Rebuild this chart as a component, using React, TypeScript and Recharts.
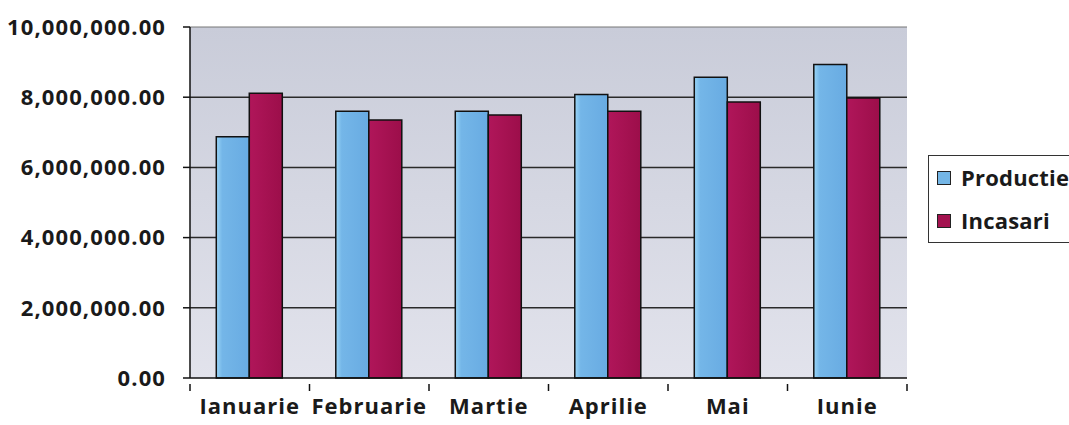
import React from 'react';
import { BarChart, Bar, XAxis, YAxis, CartesianGrid, Legend, ReferenceLine } from 'recharts';

const months = ['Ianuarie', 'Februarie', 'Martie', 'Aprilie', 'Mai', 'Iunie'];
const productie = [6870000, 7600000, 7600000, 8080000, 8570000, 8930000];
const incasari = [8110000, 7350000, 7490000, 7600000, 7860000, 7980000];
const yTicks = [0, 2000000, 4000000, 6000000, 8000000, 10000000];
const gridLines = [2000000, 4000000, 6000000, 8000000];

const data = months.map((m, i) => ({ month: m, Productie: productie[i], Incasari: incasari[i] }));

const FONT = '"Open Sans", sans-serif';
const fmt = (v: number) =>
  v.toLocaleString('en-US', { minimumFractionDigits: 2, maximumFractionDigits: 2 });

// category label plus Excel-style tick marks on the category boundaries
const MonthTick = (props: any) => {
  const { x, y, payload, index, visibleTicksCount } = props;
  const half = payload.offset || 0;
  const axisY = y - 12;
  return (
    <g>
      <line x1={x - half} x2={x - half} y1={axisY} y2={axisY + 7} stroke="#111" strokeWidth={1.5} />
      {index === visibleTicksCount - 1 && (
        <line x1={x + half} x2={x + half} y1={axisY} y2={axisY + 7} stroke="#111" strokeWidth={1.5} />
      )}
      <text
        x={x}
        y={y}
        dy={18}
        textAnchor="middle"
        fill="#1a1a1a"
        style={{ fontFamily: FONT, fontWeight: 700, fontSize: 22, letterSpacing: 1 }}
      >
        {payload.value}
      </text>
    </g>
  );
};

const LegendBox = () => (
  <div
    style={{
      border: '1.5px solid #333',
      padding: '0 60px 0 8px',
      fontFamily: FONT,
      fontWeight: 700,
      fontSize: 22,
      letterSpacing: 0.2,
      color: '#1a1a1a',
      background: '#fff',
      lineHeight: '43px',
      whiteSpace: 'nowrap',
    }}
  >
    {[
      { name: 'Productie', color: '#74b6e6' },
      { name: 'Incasari', color: '#a3124f' },
    ].map((it) => (
      <div key={it.name} style={{ display: 'flex', alignItems: 'center' }}>
        <span
          style={{
            display: 'inline-block',
            width: 12,
            height: 12,
            background: it.color,
            border: '1.5px solid #222',
            marginRight: 10,
          }}
        />
        {it.name}
      </div>
    ))}
  </div>
);

export default function App() {
  return (
    <div style={{ position: 'absolute', left: 0, top: 0, background: '#fff' }}>
      <BarChart
        width={1110}
        height={425}
        data={data}
        margin={{ top: 27, right: 203, bottom: 0, left: 0 }}
        barCategoryGap="22%"
        barGap={0}
      >
        <defs>
          <linearGradient id="plotBg" x1="0" y1="0" x2="0" y2="1">
            <stop offset="0%" stopColor="#c9ccd9" />
            <stop offset="100%" stopColor="#e2e3ec" />
          </linearGradient>
          <linearGradient id="blueBar" x1="0" y1="0" x2="1" y2="0">
            <stop offset="0%" stopColor="#9ad6f7" />
            <stop offset="18%" stopColor="#74b6e8" />
            <stop offset="100%" stopColor="#68abe2" />
          </linearGradient>
          <linearGradient id="redBar" x1="0" y1="0" x2="1" y2="0">
            <stop offset="0%" stopColor="#b0165a" />
            <stop offset="100%" stopColor="#9c0e4a" />
          </linearGradient>
        </defs>
        <CartesianGrid
          vertical={false}
          horizontalValues={gridLines}
          stroke="#2a2a2a"
          strokeWidth={1.5}
          fill="url(#plotBg)"
          yAxisId="y"
          xAxisId="b"
        />
        <ReferenceLine yAxisId="y" xAxisId="b" y={10000000} stroke="#777" strokeWidth={1} />
        <XAxis
          xAxisId="b"
          dataKey="month"
          stroke="#111"
          strokeWidth={1.5}
          tickLine={false}
          height={47}
          interval={0}
          tick={<MonthTick />}
          tickMargin={12}
        />
        <YAxis
          yAxisId="y"
          domain={[0, 10000000]}
          ticks={yTicks}
          tickFormatter={fmt}
          width={190}
          stroke="#111"
          strokeWidth={1.5}
          tickSize={7}
          tickMargin={17}
          tick={{ fill: '#1a1a1a', fontFamily: FONT, fontWeight: 700, fontSize: 22, letterSpacing: 1.1 }}
        />
        <YAxis
          yAxisId="r"
          orientation="right"
          width={0}
          tick={false}
          tickLine={false}
          stroke="#7a7f95"
          strokeWidth={1}
        />
        <Legend
          layout="horizontal"
          align="center"
          verticalAlign="middle"
          wrapperStyle={{ left: 928, top: 155, width: 'auto' }}
          content={<LegendBox />}
        />
        <Bar
          xAxisId="b"
          yAxisId="y"
          dataKey="Productie"
          fill="url(#blueBar)"
          stroke="#111"
          strokeWidth={1.5}
          isAnimationActive={false}
        />
        <Bar
          xAxisId="b"
          yAxisId="y"
          dataKey="Incasari"
          fill="url(#redBar)"
          stroke="#111"
          strokeWidth={1.5}
          isAnimationActive={false}
        />
      </BarChart>
    </div>
  );
}
